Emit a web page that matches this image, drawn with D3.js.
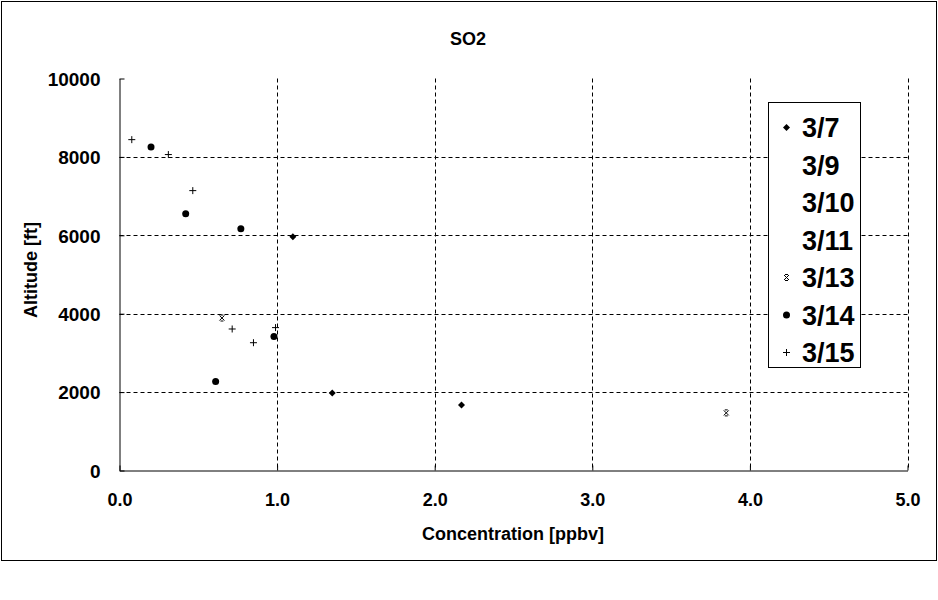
<!DOCTYPE html>
<html><head><meta charset="utf-8">
<script src="https://cdn.jsdelivr.net/npm/d3@7"></script>
<style>body{margin:0;background:#fff}svg{display:block}text{font-family:"Liberation Sans",Arial,sans-serif;font-weight:bold;fill:#000}</style>
</head><body>
<script>
const title = "SO2";
const xTicks = [0, 1, 2, 3, 4, 5];
const yTicks = [0, 2000, 4000, 6000, 8000, 10000];
const seriesNames = ["3/7", "3/9", "3/10", "3/11", "3/13", "3/14", "3/15"];
const seriesSymbols = ["diamond", "none", "none", "none", "asterisk", "circle", "plus"];
const s37x = [1.10, 1.35, 2.17];
const s37y = [5960, 1980, 1670];
const s39x = [], s39y = [];
const s310x = [], s310y = [];
const s311x = [], s311y = [];
const s313x = [0.65, 3.85];
const s313y = [3890, 1470];
const s314x = [0.20, 0.42, 0.77, 0.98, 0.61];
const s314y = [8250, 6550, 6165, 3420, 2270];
const s315x = [0.078, 0.31, 0.465, 0.715, 0.85, 0.99];
const s315y = [8440, 8060, 7140, 3610, 3260, 3645];
const seriesX = [s37x, s39x, s310x, s311x, s313x, s314x, s315x];
const seriesY = [s37y, s39y, s310y, s311y, s313y, s314y, s315y];

const W = 938, H = 600;
const svg = d3.select("body").append("svg").attr("width", W).attr("height", H);
svg.append("rect").attr("x", 1.5).attr("y", 1.5).attr("width", 935).attr("height", 559)
  .attr("fill", "#fff").attr("stroke", "#000").attr("stroke-width", 1);

const x = d3.scaleLinear().domain([0, 5]).range([119.5, 907.5]);
const y = d3.scaleLinear().domain([0, 10000]).range([470.5, 78.5]);

// grid
const g = svg.append("g");
g.selectAll("line.gx").data(xTicks.slice(1)).enter().append("line")
  .attr("x1", d => Math.round(x(d)) + 0.5).attr("x2", d => Math.round(x(d)) + 0.5)
  .attr("y1", y(10000)).attr("y2", y(0))
  .attr("stroke", "#000").attr("stroke-dasharray", "4,3");
g.selectAll("line.gy").data(yTicks.slice(1, -1)).enter().append("line")
  .attr("x1", x(0)).attr("x2", x(5))
  .attr("y1", d => Math.round(y(d)) + 0.5).attr("y2", d => Math.round(y(d)) + 0.5)
  .attr("stroke", "#000").attr("stroke-dasharray", "4,3");

// axes
const xAxis = d3.axisBottom(x).tickValues(xTicks).tickFormat(d3.format(".1f")).tickSizeInner(-5).tickSizeOuter(0).tickPadding(23);
const xg = svg.append("g").attr("transform", `translate(0,${y(0)})`).call(xAxis);
xg.selectAll("text").style("font-size", "18px").attr("font-family", "Liberation Sans, Arial, sans-serif");
const yAxis = d3.axisLeft(y).tickValues(yTicks).tickFormat(d3.format("d")).tickSizeInner(-5).tickSizeOuter(0).tickPadding(19);
const yg = svg.append("g").attr("transform", `translate(${x(0)},0)`).call(yAxis);
yg.selectAll("text").style("font-size", "19px").attr("font-family", "Liberation Sans, Arial, sans-serif").attr("dy", "0.36em");
svg.selectAll(".domain, .tick line").attr("stroke", "#000");

// titles
svg.append("text").attr("x", 468).attr("y", 45).attr("text-anchor", "middle").style("font-size", "18px").text(title);
svg.append("text").attr("x", 513).attr("y", 540).attr("text-anchor", "middle").style("font-size", "18px").text("Concentration [ppbv]");
svg.append("text").attr("transform", "translate(37,270) rotate(-90)").attr("text-anchor", "middle").style("font-size", "18px").text("Altitude [ft]");

// markers
function drawMarker(sel, type, cx, cy) {
  if (type === "diamond") {
    sel.append("path").attr("d", `M${cx},${cy-3.5}L${cx+3.5},${cy}L${cx},${cy+3.5}L${cx-3.5},${cy}Z`).attr("fill", "#000");
  } else if (type === "circle") {
    sel.append("circle").attr("cx", cx).attr("cy", cy).attr("r", 3.5).attr("fill", "#000");
  } else if (type === "plus") {
    sel.append("path").attr("d", `M${cx-3.5},${cy}H${cx+3.5}M${cx},${cy-3.5}V${cy+3.5}`).attr("stroke", "#000").attr("stroke-width", 1).attr("fill", "none");
  } else if (type === "asterisk") {
    sel.append("path").attr("d", `M${cx-2.5},${cy-2.5}L${cx+2.5},${cy+2.5}M${cx+2.5},${cy-2.5}L${cx-2.5},${cy+2.5}M${cx-1.5},${cy-3}H${cx+1.5}M${cx-1.5},${cy+3}H${cx+1.5}`).attr("stroke", "#000").attr("stroke-width", 1).attr("fill", "none");
  }
}
const pts = svg.append("g");
seriesNames.forEach((n, i) => {
  seriesX[i].forEach((vx, j) => drawMarker(pts, seriesSymbols[i], x(vx), y(seriesY[i][j])));
});

// legend
const lg = svg.append("g");
lg.append("rect").attr("x", 768.5).attr("y", 102.5).attr("width", 92).attr("height", 265).attr("fill", "#fff").attr("stroke", "#000");
seriesNames.forEach((n, i) => {
  const cy = 127.5 + i * 37.5;
  drawMarker(lg, seriesSymbols[i], 786.5, cy);
  lg.append("text").attr("x", 802).attr("y", cy + 9.5).style("font-size", "27px").text(n);
});
</script>
</body></html>
